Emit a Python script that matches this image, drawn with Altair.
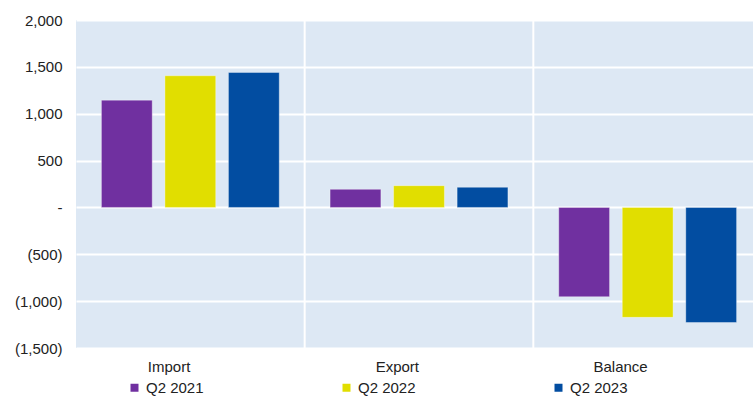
import altair as alt
import pandas as pd

categories = ["Import", "Export", "Balance"]
series = ["Q2 2021", "Q2 2022", "Q2 2023"]
values_2021 = [1145, 193, -953]
values_2022 = [1405, 232, -1173]
values_2023 = [1440, 215, -1228]
colors = ["#7030A0", "#E1DE00", "#024DA1"]
separators = ["Export", "Balance"]

rows = []
for s, vals in zip(series, [values_2021, values_2022, values_2023]):
    for c, v in zip(categories, vals):
        rows.append({"category": c, "series": s, "value": v})
df = pd.DataFrame(rows)
sep_df = pd.DataFrame({"category": separators})

FONT = "Liberation Sans"

label_expr = ("datum.value == 0 ? '-\u00a0' : (datum.value < 0 ? '(' + format(-datum.value, ',') + ')' "
              ": format(datum.value, ',') + '\u00a0')")

x_scale = alt.Scale(domain=categories, range=[0, 686], paddingInner=0, paddingOuter=0)

rules = alt.Chart(sep_df).mark_rule(color="white", strokeWidth=2).encode(
    x=alt.X("category:N", scale=x_scale, bandPosition=0, sort=categories)
)

bars = alt.Chart(df).mark_bar(stroke="white", strokeOpacity=0.35, strokeWidth=1).encode(
    x=alt.X("category:N", scale=x_scale, sort=categories, title=None,
            axis=alt.Axis(labelAngle=0, ticks=False, domain=False, labelPadding=18,
                          labelFontSize=15, labelFont=FONT, labelColor="#222222", grid=False)),
    xOffset=alt.XOffset("series:N", sort=series,
                        scale=alt.Scale(paddingInner=0.2, paddingOuter=0.4)),
    y=alt.Y("value:Q", scale=alt.Scale(domain=[-1500, 2000], nice=False), title=None,
            axis=alt.Axis(values=list(range(-1500, 2001, 500)), labelExpr=label_expr,
                          ticks=False, domain=False, labelPadding=14, labelFontSize=15,
                          labelFont=FONT, labelColor="#222222",
                          grid=True, gridColor="white", gridWidth=2)),
    color=alt.Color("series:N", sort=series,
                    scale=alt.Scale(domain=series, range=colors),
                    legend=alt.Legend(title=None, orient="none", legendX=51, legendY=360,
                                      direction="horizontal", columns=3, symbolType="square",
                                      symbolSize=64, symbolStrokeWidth=0, labelOffset=4,
                                      columnPadding=135, labelFontSize=15, labelFont=FONT,
                                      labelColor="#222222")),
)

chart = alt.layer(rules, bars).properties(
    width=677, height=328,
    background="white",
    padding={"left": 76, "top": 20, "right": 0, "bottom": 50},
    autosize=alt.AutoSizeParams(type="none"),
).configure_view(fill="#DDE8F4", strokeWidth=0)

chart.save("out.html", embed_options={"renderer": "svg", "actions": False})
